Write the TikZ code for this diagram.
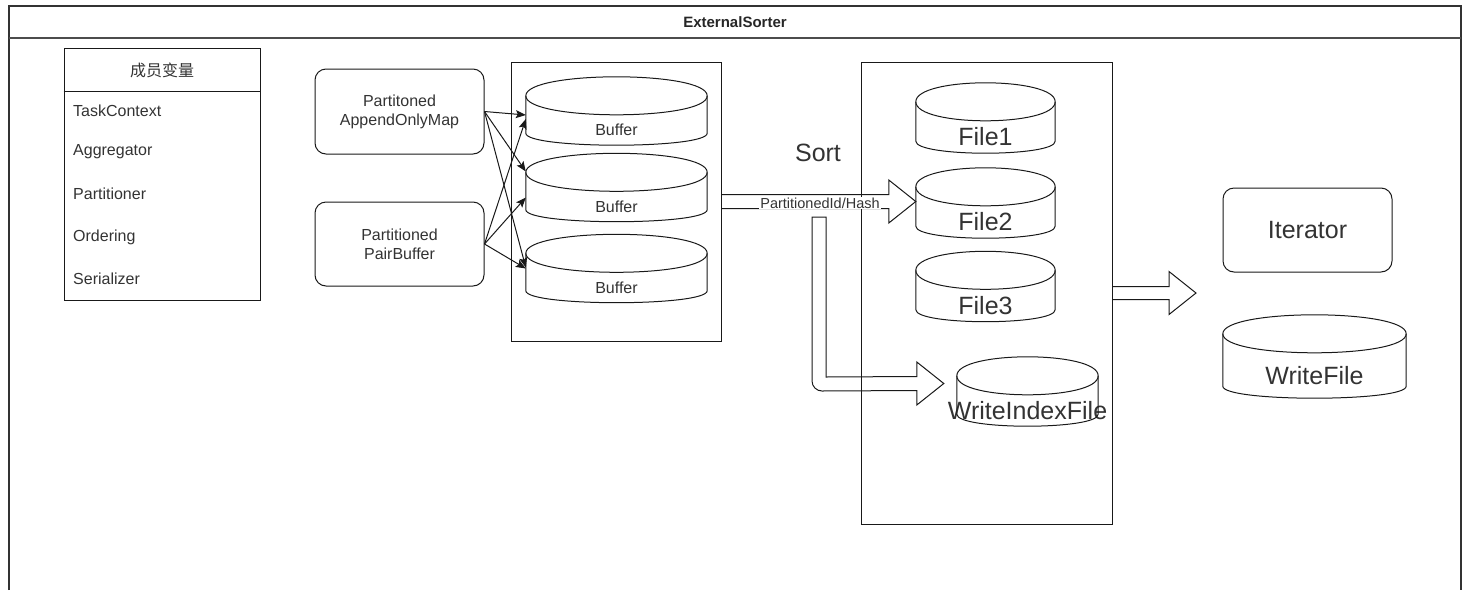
\documentclass[tikz,border=0pt]{standalone}
\usepackage{fontspec}
\setmainfont{Liberation Sans}
\newfontfamily\cjk{Noto Sans CJK SC}
\usetikzlibrary{calc,arrows.meta}

\tikzset{
  ln/.style={line width=1pt, draw=black!90},
  txt/.style={text=black!80, font=\fontsize{16}{19}\selectfont},
  bigtxt/.style={text=black!80, font=\fontsize{25}{30}\selectfont},
  roundbox/.style={ln, rounded corners=11pt, align=center, txt, inner sep=0pt},
  cylnode/.style={inner sep=0pt},
  thinarrow/.style={ln, -{Stealth[length=10pt,width=8pt,inset=2pt]}},
}

% cylinder outline around a node: top ellipse and rounded bottom
\newcommand\cylinderfor[1]{%
  \draw[ln] ($(#1.north west)+(0,19)$)
    .. controls ($(#1.north west)+(0,-6.33)$) and ($(#1.north east)+(0,-6.33)$) .. ($(#1.north east)+(0,19)$)
    -- ($(#1.south east)+(0,-12)$)
    .. controls ($(#1.south east)+(0,4)$) and ($(#1.south west)+(0,4)$) .. ($(#1.south west)+(0,-12)$)
    -- cycle;
  \draw[ln] ($(#1.north west)+(0,19)$)
    .. controls ($(#1.north west)+(0,44.33)$) and ($(#1.north east)+(0,44.33)$) .. ($(#1.north east)+(0,19)$);
}

% horizontal block arrow from #1 to tip #2 (shaft half width #3)
\newcommand\blockarrow[3]{%
  \draw[ln] ($(#1)+(0,-#3)$) -- ($(#2)+(-27,-#3)$) -- ($(#2)+(-27,-21.5)$) -- (#2)
    -- ($(#2)+(-27,21.5)$) -- ($(#2)+(-27,#3)$) -- ($(#1)+(0,#3)$);
}

\begin{document}
\begin{tikzpicture}[x=1pt, y=-1pt]
\useasboundingbox (0,0) rectangle (1468,590);

% outer lane with its header
\draw[line width=1.6pt, black!80] (9,590) -- (9,6) -- (1461,6) -- (1461,590);
\draw[line width=1.6pt, black!70] (9,38) -- (1461,38);
\node[text=black!85, font=\fontsize{15}{18}\selectfont\bfseries] (lane) at (735,22) {ExternalSorter};

% member list
\node[ln, draw, minimum width=196pt, minimum height=252pt, inner sep=0pt] (members) at (162,174) {};
\coordinate (hdr) at (0,91);
\draw[ln] (members.west |- hdr) -- (members.east |- hdr);
\node[txt, font=\cjk\fontsize{16}{19}\selectfont] (mtitle) at (162,70) {成员变量};
\node[txt, anchor=west, inner sep=0pt] (m1) at (73,111) {TaskContext};
\node[txt, anchor=west, inner sep=0pt] (m2) at (73,152) {Aggregator};
\node[txt, anchor=west, inner sep=0pt] (m3) at (73,194) {Partitioner};
\node[txt, anchor=west, inner sep=0pt] (m4) at (73,237) {Ordering};
\node[txt, anchor=west, inner sep=0pt] (m5) at (73,279) {Serializer};

% in-memory collections
\node[roundbox, draw, minimum width=169pt, minimum height=85pt] (aom) at (399.5,111.5) {Partitoned\\AppendOnlyMap};
\node[roundbox, draw, minimum width=169pt, minimum height=84pt] (pb) at (399.5,244) {Partitioned\\PairBuffer};

% buffer group
\node[ln, draw, minimum width=210pt, minimum height=279pt, inner sep=0pt] (bufbox) at (616,201.5) {};
\node[cylnode, minimum width=181pt, minimum height=68pt, label={[txt, yshift=-19pt]center:Buffer}] (b1) at (616.5,111) {};
\node[cylnode, minimum width=181pt, minimum height=68pt, label={[txt, yshift=-19pt]center:Buffer}] (b2) at (616.5,187.5) {};
\node[cylnode, minimum width=181pt, minimum height=68pt, label={[txt, yshift=-19pt]center:Buffer}] (b3) at (616.5,268.5) {};
\cylinderfor{b1}
\cylinderfor{b2}
\cylinderfor{b3}

\draw[thinarrow] (aom.east) -- ($(b1.west)+(0,4)$);
\draw[thinarrow] (aom.east) -- ($(b2.west)+(0,-16)$);
\draw[thinarrow] (aom.east) -- ($(b3.west)+(0,-1)$);
\draw[thinarrow] (pb.east) -- ($(b1.west)+(0,8)$);
\draw[thinarrow] (pb.east) -- ($(b2.west)+(0,10)$);
\draw[thinarrow] (pb.east) -- ($(b3.west)+(0,0)$);

% spilled files
\node[cylnode, minimum width=139pt, minimum height=70pt, label={[bigtxt, yshift=-19pt]center:File1}] (f1) at (985.5,118) {};
\node[cylnode, minimum width=139pt, minimum height=70pt, label={[bigtxt, yshift=-19pt]center:File2}] (f2) at (985.5,203) {};
\node[cylnode, minimum width=139pt, minimum height=70pt, label={[bigtxt, yshift=-19pt]center:File3}] (f3) at (985.5,286.5) {};
\node[cylnode, minimum width=141pt, minimum height=69pt, label={[bigtxt, yshift=-19pt]center:WriteIndexFile}] (wif) at (1027.5,391.5) {};
\cylinderfor{f1}
\cylinderfor{f2}
\cylinderfor{f3}
\cylinderfor{wif}

% sort arrows
\coordinate (t1) at (f2.west |- bufbox.east);
\blockarrow{bufbox.east}{t1}{7}
\coordinate (wifTip) at ($(wif.west)+(-13,-8)$);
\draw[ln] (826,217) -- (812,217) -- (812,381)
  .. controls (812,386.5) and (816.5,391) .. (822,391)
  -- ($(wifTip)+(-27,7)$) -- ($(wifTip)+(-27,21.5)$) -- (wifTip)
  -- ($(wifTip)+(-27,-21.5)$) -- ($(wifTip)+(-27,-7)$) -- (826,377) -- cycle;

\node[ln, draw, minimum width=251pt, minimum height=462pt, inner sep=0pt] (sortbox) at (986.5,293) {};
\node[bigtxt] (sortlbl) at (818,153) {Sort};
\node[txt, font=\fontsize{14.5}{17}\selectfont, fill=white, inner sep=1pt] (hashlbl) at (820,203) {PartitionedId/Hash};

% results
\coordinate (outTip) at (1196,293);
\blockarrow{sortbox.east}{outTip}{6.5}
\node[roundbox, draw, bigtxt, minimum width=169pt, minimum height=84pt] (iter) at (1307.5,230) {Iterator};
\node[cylnode, minimum width=183pt, minimum height=83pt, label={[bigtxt, yshift=-19pt]center:WriteFile}] (wf) at (1314.5,356.5) {};
\cylinderfor{wf}
\end{tikzpicture}
\end{document}
